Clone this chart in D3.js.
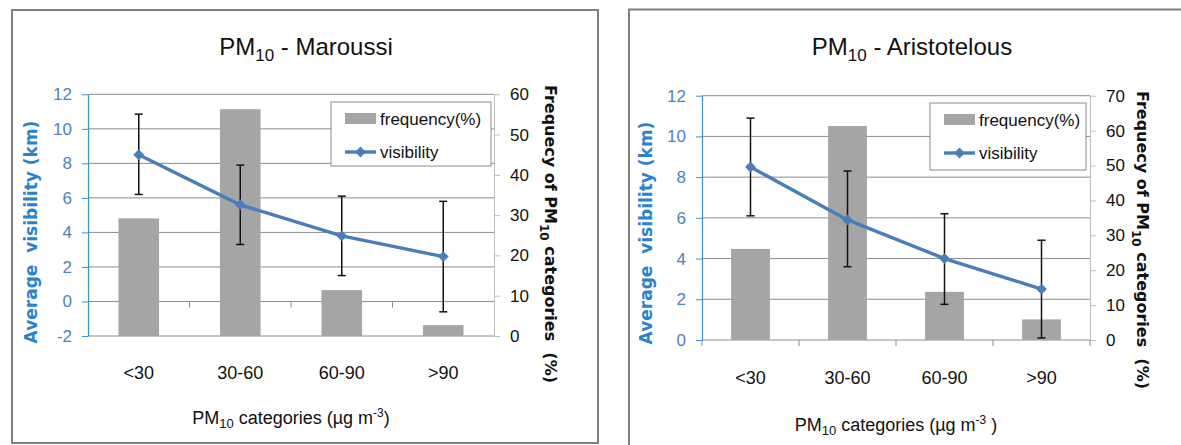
<!DOCTYPE html>
<html>
<head>
<meta charset="utf-8">
<script src="https://cdn.jsdelivr.net/npm/d3@7"></script>
<style>
  body { margin: 0; background: #fff; }
  svg { display: block; }
</style>
</head>
<body>
<div id="chart"></div>
<script>
var categories = ['<30', '30-60', '60-90', '>90'];

// Maroussi
var marFreq = [29.2, 56.3, 11.4, 2.7];
var marVis = [8.5, 5.6, 3.8, 2.6];
var marErrLow = [6.2, 3.3, 1.5, -0.6];
var marErrHigh = [10.85, 7.9, 6.1, 5.8];
var marLeftTicks = [-2, 0, 2, 4, 6, 8, 10, 12];
var marRightTicks = [0, 10, 20, 30, 40, 50, 60];

// Aristotelous
var ariFreq = [26.1, 61.3, 13.8, 5.9];
var ariVis = [8.5, 5.9, 4.0, 2.5];
var ariErrLow = [6.1, 3.6, 1.75, 0.1];
var ariErrHigh = [10.9, 8.3, 6.2, 4.9];
var ariLeftTicks = [0, 2, 4, 6, 8, 10, 12];
var ariRightTicks = [0, 10, 20, 30, 40, 50, 60, 70];

var narrow = '"Liberation Sans Narrow", "Arial Narrow", "Liberation Sans", sans-serif';
var boldFont = '"DejaVu Sans", Verdana, sans-serif';

var svg = d3.select('#chart')
    .append('svg')
    .attr('width', 1181)
    .attr('height', 445);

function drawChart(cfg) {
    var g = svg.append('g');

    // outer frame
    g.append('rect')
        .attr('x', cfg.frame[0]).attr('y', cfg.frame[1])
        .attr('width', cfg.frame[2]).attr('height', cfg.frame[3])
        .style('fill', 'none')
        .style('stroke', '#7f7f7f')
        .style('stroke-width', 2);

    var x = d3.scaleBand()
        .domain(categories)
        .range([cfg.x0, cfg.x1]);

    var yL = d3.scaleLinear()
        .domain(cfg.leftDomain)
        .range([cfg.yBottom, cfg.yTop]);

    var yR = d3.scaleLinear()
        .domain(cfg.rightDomain)
        .range([cfg.yBottom, cfg.yTop]);

    // gridlines
    g.append('g')
        .selectAll('line')
        .data(cfg.leftTicks)
        .enter()
        .append('line')
        .attr('x1', cfg.x0).attr('x2', cfg.x1)
        .attr('y1', d => yL(d)).attr('y2', d => yL(d))
        .style('stroke', '#8c8c8c')
        .style('stroke-width', 1);

    // category ticks on the zero line
    var bounds = d3.range(categories.length + 1).map(i => cfg.x0 + i * x.bandwidth());
    g.append('g')
        .selectAll('line')
        .data(bounds.filter((d, i) => cfg.endTicks || (i > 0 && i < categories.length)))
        .enter()
        .append('line')
        .attr('x1', d => d).attr('x2', d => d)
        .attr('y1', yL(0)).attr('y2', yL(0) + 6)
        .style('stroke', '#8c8c8c');

    // left axis
    var leftAxis = g.append('g')
        .attr('transform', 'translate(' + cfg.x0 + ',0)')
        .call(d3.axisLeft(yL).tickValues(cfg.leftTicks).tickFormat(d => String(d))
            .tickSize(6).tickSizeOuter(0).tickPadding(10));
    leftAxis.select('.domain').style('stroke', '#3d8fd6').style('stroke-width', 1.2);
    leftAxis.selectAll('.tick line').style('stroke', '#3d8fd6');
    leftAxis.selectAll('text')
        .style('font-family', narrow)
        .style('font-size', '17px')
        .style('fill', '#4f81bd');

    // right axis
    var rightAxis = g.append('g')
        .attr('transform', 'translate(' + cfg.x1 + ',0)')
        .call(d3.axisRight(yR).tickValues(cfg.rightTicks).tickFormat(d => String(d))
            .tickSize(6).tickSizeOuter(0).tickPadding(10));
    rightAxis.select('.domain').style('stroke', '#bfbfbf');
    rightAxis.selectAll('.tick line').style('stroke', '#bfbfbf');
    rightAxis.selectAll('text')
        .style('font-family', narrow)
        .style('font-size', '17px')
        .style('fill', '#111');

    // bars
    var bw = x.bandwidth() * 0.4;
    g.append('g')
        .selectAll('rect')
        .data(cfg.freq)
        .enter()
        .append('rect')
        .attr('x', (d, i) => x(categories[i]) + x.bandwidth() / 2 - bw / 2)
        .attr('y', d => yR(d))
        .attr('width', bw)
        .attr('height', d => yR(0) - yR(d))
        .style('fill', '#a5a5a5');

    var cx = (d, i) => x(categories[i]) + x.bandwidth() / 2;

    // visibility line
    var line = d3.line()
        .x((d, i) => cx(d, i))
        .y(d => yL(d));
    g.append('path')
        .datum(cfg.vis)
        .attr('d', line)
        .style('fill', 'none')
        .style('stroke', '#4a7ebb')
        .style('stroke-width', 3.4);

    // error bars
    var err = g.append('g')
        .selectAll('g')
        .data(cfg.vis)
        .enter()
        .append('g');
    err.append('line')
        .attr('x1', cx).attr('x2', cx)
        .attr('y1', (d, i) => yL(cfg.errLow[i]))
        .attr('y2', (d, i) => yL(cfg.errHigh[i]))
        .style('stroke', '#111').style('stroke-width', 1.5);
    err.append('line')
        .attr('x1', (d, i) => cx(d, i) - 4).attr('x2', (d, i) => cx(d, i) + 4)
        .attr('y1', (d, i) => yL(cfg.errLow[i])).attr('y2', (d, i) => yL(cfg.errLow[i]))
        .style('stroke', '#111').style('stroke-width', 1.5);
    err.append('line')
        .attr('x1', (d, i) => cx(d, i) - 4).attr('x2', (d, i) => cx(d, i) + 4)
        .attr('y1', (d, i) => yL(cfg.errHigh[i])).attr('y2', (d, i) => yL(cfg.errHigh[i]))
        .style('stroke', '#111').style('stroke-width', 1.5);

    // diamond markers
    g.append('g')
        .selectAll('path')
        .data(cfg.vis)
        .enter()
        .append('path')
        .attr('d', d3.symbol().type(d3.symbolDiamond2).size(75))
        .attr('transform', (d, i) => 'translate(' + cx(d, i) + ',' + yL(d) + ')')
        .style('fill', '#4a7ebb');

    // category labels
    g.append('g')
        .selectAll('text')
        .data(categories)
        .enter()
        .append('text')
        .text(d => d)
        .attr('x', d => x(d) + x.bandwidth() / 2)
        .attr('y', cfg.catY)
        .style('font-family', narrow)
        .style('font-size', '18px')
        .style('fill', '#111')
        .style('text-anchor', 'middle');

    // title
    var title = g.append('text')
        .attr('x', cfg.titleX).attr('y', 55)
        .style('font-family', narrow)
        .style('font-size', '24px')
        .style('fill', '#111')
        .style('text-anchor', 'middle');
    title.append('tspan').text('PM');
    title.append('tspan').text('10').attr('dy', 6).style('font-size', '17px');
    title.append('tspan').text(' - ' + cfg.name).attr('dy', -6);

    // x axis title
    var xt = g.append('text')
        .attr('x', cfg.xTitleX).attr('y', cfg.xTitleY)
        .style('font-family', narrow)
        .style('font-size', '18px')
        .style('fill', '#111')
        .style('text-anchor', 'middle');
    xt.append('tspan').text('PM');
    xt.append('tspan').text('10').attr('dy', 4).style('font-size', '13px');
    xt.append('tspan').text(' categories (µg m').attr('dy', -4);
    xt.append('tspan').text('-3').attr('dy', -7).style('font-size', '12px');
    xt.append('tspan').text(cfg.xTitleEnd).attr('dy', 7);

    // left axis title
    g.append('text')
        .attr('transform', 'translate(' + cfg.leftTitleX + ',' + cfg.leftTitleY + ') rotate(-90)')
        .attr('xml:space', 'preserve')
        .text('Average  visibility (km)')
        .style('font-family', boldFont)
        .style('font-weight', 'bold')
        .style('font-size', '17px')
        .style('fill', '#2a82cf')
        .style('text-anchor', 'middle')
        .attr('dy', '0.35em');

    // right axis title
    var rt = g.append('text')
        .attr('transform', 'translate(' + cfg.rightTitleX + ',' + cfg.rightTitleY + ') rotate(90)')
        .attr('xml:space', 'preserve')
        .style('font-family', boldFont)
        .style('font-weight', 'bold')
        .style('font-size', '16px')
        .style('fill', '#111')
        .style('text-anchor', 'middle');
    rt.append('tspan').text('Frequecy of PM').attr('dy', '0.35em');
    rt.append('tspan').text('10').attr('dy', 5).style('font-size', '12px');
    rt.append('tspan').text(' categories  (%)').attr('dy', -5);

    // legend
    var lg = g.append('g').attr('transform', 'translate(' + cfg.legend[0] + ',' + cfg.legend[1] + ')');
    lg.append('rect')
        .attr('width', cfg.legend[2]).attr('height', cfg.legend[3])
        .style('fill', '#fff')
        .style('stroke', '#8c8c8c');
    lg.append('rect')
        .attr('x', 14).attr('y', 11)
        .attr('width', 31).attr('height', 11)
        .style('fill', '#a5a5a5');
    lg.append('line')
        .attr('x1', 14).attr('x2', 45)
        .attr('y1', 50).attr('y2', 50)
        .style('stroke', '#4a7ebb').style('stroke-width', 3.4);
    lg.append('path')
        .attr('d', d3.symbol().type(d3.symbolDiamond2).size(75))
        .attr('transform', 'translate(29.5,50)')
        .style('fill', '#4a7ebb');
    lg.append('text')
        .text('frequency(%)')
        .attr('x', 49).attr('y', 17).attr('dy', '0.35em')
        .style('font-family', narrow).style('font-size', '17px').style('fill', '#111');
    lg.append('text')
        .text('visibility')
        .attr('x', 49).attr('y', 50).attr('dy', '0.35em')
        .style('font-family', narrow).style('font-size', '17px').style('fill', '#111');
}

drawChart({
    name: 'Maroussi',
    frame: [12, 10, 586, 433],
    x0: 88, x1: 494, yTop: 94.3, yBottom: 336,
    leftDomain: [-2, 12], rightDomain: [0, 60],
    leftTicks: marLeftTicks, rightTicks: marRightTicks,
    freq: marFreq, vis: marVis, errLow: marErrLow, errHigh: marErrHigh,
    endTicks: false,
    catY: 379, titleX: 306,
    xTitleX: 291, xTitleY: 424, xTitleEnd: ')',
    leftTitleX: 31, leftTitleY: 232,
    rightTitleX: 551, rightTitleY: 234,
    legend: [331, 102, 160, 64]
});

drawChart({
    name: 'Aristotelous',
    frame: [629, 9.5, 600, 500],
    x0: 702, x1: 1090, yTop: 95.7, yBottom: 340,
    leftDomain: [0, 12], rightDomain: [0, 70],
    leftTicks: ariLeftTicks, rightTicks: ariRightTicks,
    freq: ariFreq, vis: ariVis, errLow: ariErrLow, errHigh: ariErrHigh,
    endTicks: true,
    catY: 384, titleX: 912,
    xTitleX: 896, xTitleY: 431, xTitleEnd: ' )',
    leftTitleX: 646, leftTitleY: 233,
    rightTitleX: 1143, rightTitleY: 240,
    legend: [930, 103, 156, 67]
});
</script>
</body>
</html>
